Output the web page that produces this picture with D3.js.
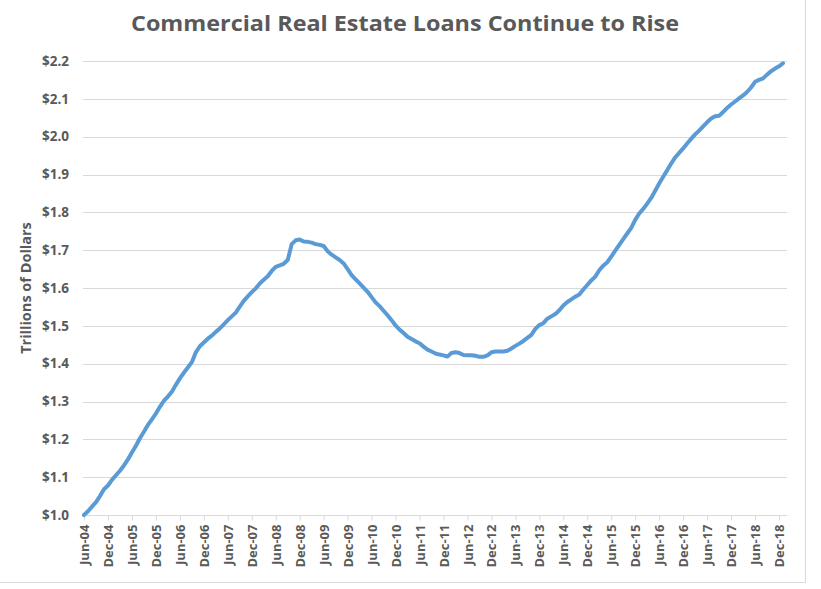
<!DOCTYPE html>
<html>
<head>
<meta charset="utf-8">
<script src="https://cdn.jsdelivr.net/npm/d3@7"></script>
<style>
  body { margin: 0; background: #fff; }
  svg { display: block; }
  text { font-family: "Open Sans", "Liberation Sans", sans-serif; fill: #595959; }
</style>
</head>
<body>
<svg id="chart" width="821" height="589"></svg>
<script>
// monthly loan balances, trillions of dollars, Jun-04 onwards
const loans2004 = [1.000, 1.010, 1.022, 1.034, 1.050, 1.068, 1.078];
const loans2005 = [1.093, 1.105, 1.117, 1.131, 1.147, 1.165, 1.183, 1.203, 1.220, 1.238, 1.253, 1.268];
const loans2006 = [1.286, 1.302, 1.313, 1.326, 1.344, 1.361, 1.376, 1.390, 1.404, 1.430, 1.446, 1.456];
const loans2007 = [1.466, 1.474, 1.484, 1.493, 1.504, 1.515, 1.525, 1.535, 1.551, 1.566, 1.578, 1.589];
const loans2008 = [1.599, 1.612, 1.622, 1.631, 1.645, 1.656, 1.660, 1.664, 1.674, 1.716, 1.726, 1.728];
const loans2009 = [1.723, 1.722, 1.720, 1.716, 1.714, 1.711, 1.697, 1.688, 1.681, 1.674, 1.665, 1.650];
const loans2010 = [1.634, 1.623, 1.612, 1.601, 1.590, 1.576, 1.562, 1.552, 1.540, 1.528, 1.515, 1.501];
const loans2011 = [1.490, 1.481, 1.471, 1.465, 1.459, 1.454, 1.445, 1.437, 1.432, 1.427, 1.424, 1.422];
const loans2012 = [1.419, 1.428, 1.430, 1.428, 1.423, 1.422, 1.422, 1.421, 1.418, 1.418, 1.422, 1.430];
const loans2013 = [1.432, 1.432, 1.432, 1.434, 1.440, 1.447, 1.453, 1.460, 1.468, 1.476, 1.492, 1.502];
const loans2014 = [1.507, 1.519, 1.525, 1.531, 1.541, 1.554, 1.563, 1.570, 1.577, 1.583, 1.596, 1.608];
const loans2015 = [1.620, 1.630, 1.647, 1.659, 1.668, 1.683, 1.699, 1.714, 1.729, 1.744, 1.759, 1.780];
const loans2016 = [1.797, 1.809, 1.823, 1.838, 1.857, 1.876, 1.894, 1.911, 1.929, 1.945, 1.957, 1.969];
const loans2017 = [1.982, 1.994, 2.006, 2.016, 2.027, 2.038, 2.048, 2.054, 2.055, 2.065, 2.076, 2.085];
const loans2018 = [2.093, 2.101, 2.109, 2.118, 2.130, 2.145, 2.150, 2.154, 2.164, 2.173, 2.180, 2.186];
const loans2019 = [2.194];

const loans = [].concat(loans2004, loans2005, loans2006, loans2007, loans2008, loans2009,
    loans2010, loans2011, loans2012, loans2013, loans2014, loans2015, loans2016,
    loans2017, loans2018, loans2019);

const xTickLabels = ["Jun-04", "Dec-04", "Jun-05", "Dec-05", "Jun-06", "Dec-06", "Jun-07", "Dec-07",
    "Jun-08", "Dec-08", "Jun-09", "Dec-09", "Jun-10", "Dec-10", "Jun-11", "Dec-11", "Jun-12", "Dec-12",
    "Jun-13", "Dec-13", "Jun-14", "Dec-14", "Jun-15", "Dec-15", "Jun-16", "Dec-16", "Jun-17", "Dec-17",
    "Jun-18", "Dec-18"];
const yTicks = [1.0, 1.1, 1.2, 1.3, 1.4, 1.5, 1.6, 1.7, 1.8, 1.9, 2.0, 2.1, 2.2];

const svg = d3.select("#chart");

// plot frame
const plotLeft = 84, plotRight = 787, plotTop = 61, plotBottom = 515;

let x = d3.scaleLinear()
    .domain([0, 176])
    .range([plotLeft, plotRight]);

let y = d3.scaleLinear()
    .domain([1.0, 2.2])
    .range([plotBottom, plotTop]);

// outer chart border (only right and bottom visible)
svg.append("line")
    .attr("x1", 805.5).attr("x2", 805.5)
    .attr("y1", 0).attr("y2", 582.5)
    .attr("stroke", "#d9d9d9");
svg.append("line")
    .attr("x1", 0).attr("x2", 805.5)
    .attr("y1", 582.5).attr("y2", 582.5)
    .attr("stroke", "#d9d9d9");

// title
svg.append("text")
    .attr("x", 405)
    .attr("y", 31)
    .attr("text-anchor", "middle")
    .attr("textLength", 548)
    .attr("lengthAdjust", "spacingAndGlyphs")
    .style("font-size", "22px")
    .style("font-weight", 700)
    .text("Commercial Real Estate Loans Continue to Rise");

// gridlines
svg.append("g")
    .selectAll("line")
    .data(yTicks.slice(1))
    .enter().append("line")
    .attr("x1", plotLeft - 1).attr("x2", plotRight)
    .attr("y1", d => Math.round(y(d)) + 0.5)
    .attr("y2", d => Math.round(y(d)) + 0.5)
    .attr("stroke", "#d9d9d9");

// y axis labels
let yAxis = svg.append("g")
    .attr("transform", "translate(" + (plotLeft - 1) + ",0)")
    .call(d3.axisLeft(y)
        .tickValues(yTicks)
        .tickSize(0)
        .tickPadding(14)
        .tickFormat(d => "$" + d.toFixed(1)));
yAxis.select(".domain").remove();
yAxis.selectAll("text")
    .style("font-size", "13.5px")
    .style("font-weight", 700)
    .attr("fill", "#595959");

// x axis
let xAxis = svg.append("g")
    .attr("transform", "translate(0," + (Math.round(plotBottom) + 0.5) + ")")
    .call(d3.axisBottom(x)
        .tickValues(xTickLabels.map((d, i) => i * 6))
        .tickSize(5)
        .tickSizeOuter(0)
        .tickFormat((d, i) => xTickLabels[i]));
xAxis.select(".domain")
    .attr("stroke", "#d9d9d9")
    .attr("d", "M" + (plotLeft - 1) + ",0H" + plotRight);
xAxis.selectAll(".tick line").attr("stroke", "#d9d9d9");
xAxis.selectAll("text")
    .style("font-size", "13px")
    .style("font-weight", 700)
    .attr("fill", "#595959")
    .attr("text-anchor", "end")
    .attr("transform", "rotate(-90)")
    .attr("x", -9)
    .attr("y", 0)
    .attr("dy", "0.35em");

// y axis title
svg.append("text")
    .attr("transform", "translate(31,288) rotate(-90)")
    .attr("text-anchor", "middle")
    .style("font-size", "14.5px")
    .style("font-weight", 700)
    .text("Trillions of Dollars");

// the series
let line = d3.line()
    .x((d, i) => x(i))
    .y(d => y(d));

svg.append("path")
    .datum(loans)
    .attr("fill", "none")
    .attr("stroke", "#5b9bd5")
    .attr("stroke-width", 4)
    .attr("stroke-linejoin", "round")
    .attr("stroke-linecap", "round")
    .attr("d", line);
</script>
</body>
</html>
